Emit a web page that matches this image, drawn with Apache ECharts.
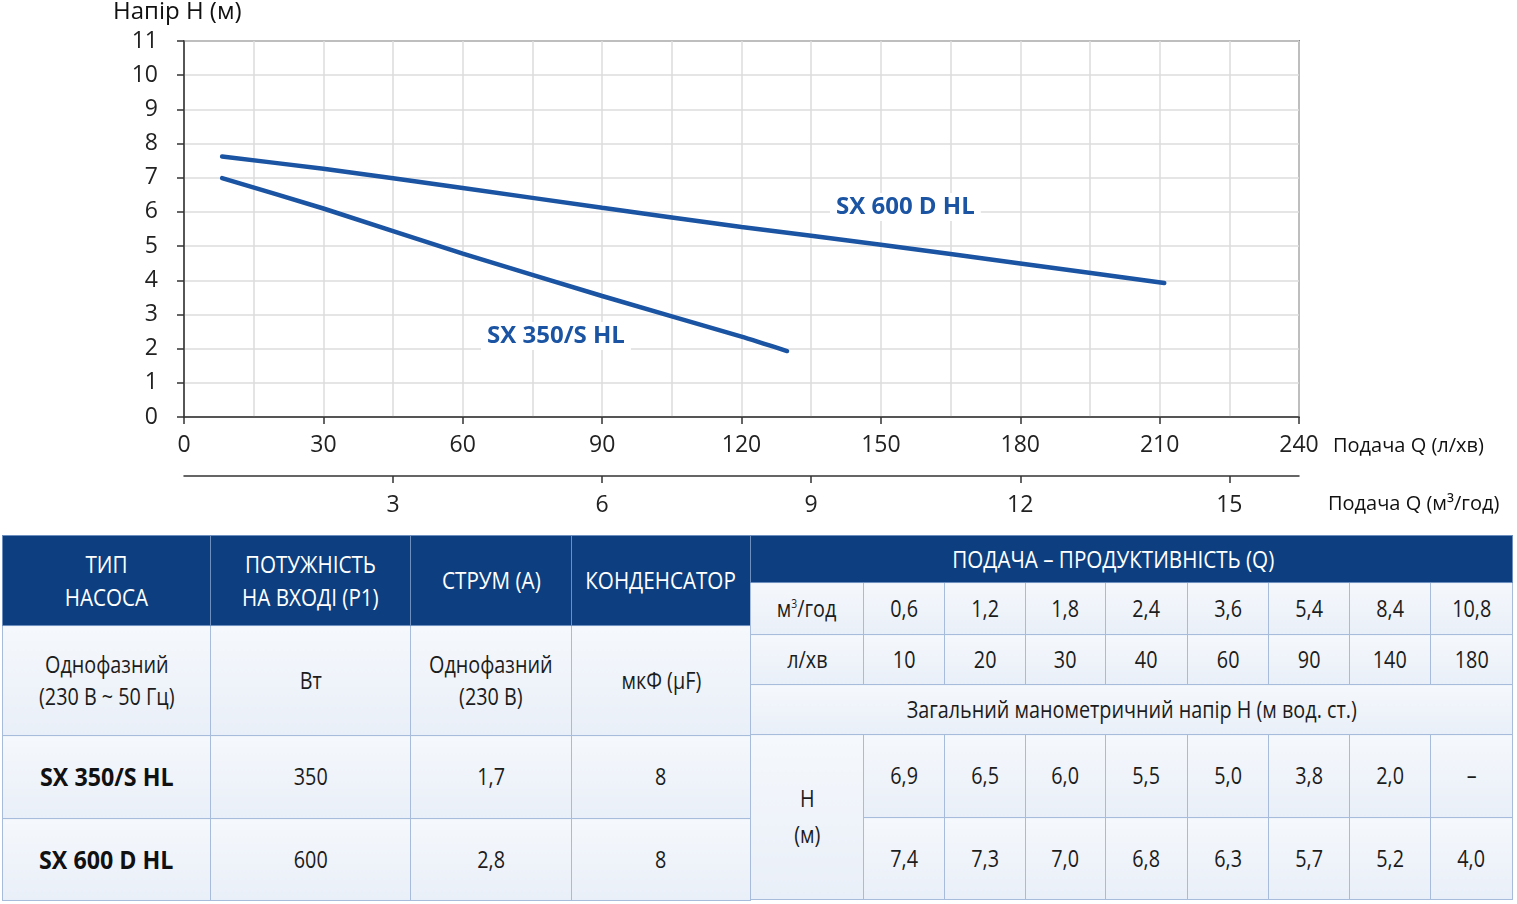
<!DOCTYPE html>
<html>
<head>
<meta charset="utf-8">
<script src="https://cdn.jsdelivr.net/npm/echarts@6/dist/echarts.min.js"></script>
<style>
  html, body { margin: 0; padding: 0; background: #fff; }
  body { width: 1517px; height: 904px; position: relative; overflow: hidden; }
  #chart { position: absolute; left: 0; top: 0; width: 1517px; height: 530px; }
  table {
    position: absolute; top: 535px; border-collapse: collapse; table-layout: fixed;
    font-family: 'Open Sans', sans-serif;
    color: #1c1c1c; font-size: 23px; text-align: center;
  }
  td { border: 1.5px solid #a7bcdb; background: linear-gradient(#f5f8fc, #e9eff8); padding: 0; line-height: 1.35; }
  td.head { background: #0d3f80; color: #fff; border-color: #6d8fbf; font-size: 24px; }
  td.model { font-weight: bold; font-size: 25px; color: #111; }
  td span { display: inline-block; transform: scaleX(0.86); white-space: nowrap; }
  td.model span { transform: scaleX(0.93); }
  #left { left: 2px; }
  #right { left: 750px; }
  sup { font-size: 12px; vertical-align: 9px; line-height: 0; }
</style>
</head>
<body>
<div id="chart"></div>
<table id="left"></table>
<table id="right"></table>
<script>
// curves: flow Q (l/min) and head H (m)
const sx350Flow = [8.2, 30, 60, 90, 120, 129.8];
const sx350Head = [6.99, 6.1, 4.78, 3.54, 2.35, 1.93];
const sx600Flow = [8.2, 30, 60, 90, 120, 150, 180, 211];
const sx600Head = [7.62, 7.26, 6.7, 6.12, 5.56, 5.04, 4.49, 3.92];

// table
const models = ['SX 350/S HL', 'SX 600 D HL'];
const powerW = ['350', '600'];
const currentA = ['1,7', '2,8'];
const capacitor = ['8', '8'];
const flowM3 = ['0,6', '1,2', '1,8', '2,4', '3,6', '5,4', '8,4', '10,8'];
const flowLmin = ['10', '20', '30', '40', '60', '90', '140', '180'];
const headSx350 = ['6,9', '6,5', '6,0', '5,5', '5,0', '3,8', '2,0', '–'];
const headSx600 = ['7,4', '7,3', '7,0', '6,8', '6,3', '5,7', '5,2', '4,0'];

const blue = '#1b54a2';
const font = 'Open Sans';

const chart = echarts.init(document.getElementById('chart'));

const toPairs = (xs, ys) => xs.map((x, i) => [x, ys[i]]);

const option = {
  animation: false,
  textStyle: { fontFamily: font },
  grid: {
    left: 184, top: 41, width: 1115, height: 376,
    show: true, borderColor: '#333', borderWidth: 1.5, backgroundColor: 'transparent',
  },
  xAxis: [
    {
      type: 'value', min: 0, max: 240, interval: 30,
      axisLine: { lineStyle: { color: '#333', width: 1.5 } },
      axisTick: { show: true, length: 7, lineStyle: { color: '#333', width: 1.5 } },
      axisLabel: { color: '#222', fontSize: 23, margin: 17, fontFamily: font },
      splitLine: { show: true, lineStyle: { color: '#dcdcdc', width: 1.5 } },
      minorTick: { show: false, splitNumber: 2 },
      minorSplitLine: { show: true, lineStyle: { color: '#dcdcdc', width: 1.5 } },
    },
    {
      type: 'value', min: 0, max: 16, interval: 3, position: 'bottom', offset: 59,
      axisLine: { show: true, lineStyle: { color: '#333', width: 1.5 } },
      axisTick: { show: true, length: 7, lineStyle: { color: '#333', width: 1.5 } },
      axisLabel: {
        color: '#222', fontSize: 23, margin: 18, fontFamily: font,
        showMinLabel: false, showMaxLabel: false,
        formatter: (v) => (v === 0 || v === 16 ? '' : String(v)),
      },
      splitLine: { show: false },
    },
  ],
  yAxis: {
    type: 'value', min: 0, max: 11, interval: 1,
    axisLine: { show: true, lineStyle: { color: '#333', width: 1.5 } },
    axisTick: { show: true, length: 7, lineStyle: { color: '#333', width: 1.5 } },
    axisLabel: { color: '#222', fontSize: 23, margin: 26, fontFamily: font },
    splitLine: { show: true, lineStyle: { color: '#dcdcdc', width: 1.5 } },
  },
  graphic: [
    { type: 'text', left: 113, top: 0, z: 100, style: { text: 'Напір H (м)', font: '500 24px "Open Sans"', fill: '#111' } },
    { type: 'text', left: 1333, top: 436, z: 100, style: { text: 'Подача Q (л/хв)', font: '500 20px "Open Sans"', fill: '#111' } },
    { type: 'text', left: 1328, top: 494, z: 100, style: { text: 'Подача Q (м³/год)', font: '500 20px "Open Sans"', fill: '#111' } },
    {
      type: 'text', left: 830, top: 193, z: 100,
      style: { text: 'SX 600 D HL', font: 'bold 24px "Open Sans"', fill: blue, backgroundColor: '#fff', padding: [2, 6] },
    },
    {
      type: 'text', left: 481, top: 322, z: 100,
      style: { text: 'SX 350/S HL', font: 'bold 24px "Open Sans"', fill: blue, backgroundColor: '#fff', padding: [2, 6] },
    },
  ],
  series: [
    {
      name: 'SX 350/S HL', type: 'line', xAxisIndex: 0, smooth: 0.2, symbol: 'none',
      lineStyle: { color: blue, width: 4.5, cap: 'round' },
      data: toPairs(sx350Flow, sx350Head),
    },
    {
      name: 'SX 600 D HL', type: 'line', xAxisIndex: 0, smooth: 0.2, symbol: 'none',
      lineStyle: { color: blue, width: 4.5, cap: 'round' },
      data: toPairs(sx600Flow, sx600Head),
    },
  ],
};
chart.setOption(option);

const cell = (v, attrs = '') => `<td${attrs}><span>${v}</span></td>`;

// left table
const left = document.getElementById('left');
const leftCols = [208, 200, 161, 179];
let html = '<colgroup>' + leftCols.map((w) => `<col style="width:${w}px">`).join('') + '</colgroup>';
html += '<tr style="height:90px">' + ['ТИП<br>НАСОСА', 'ПОТУЖНІСТЬ<br>НА ВХОДІ (P1)', 'СТРУМ (А)', 'КОНДЕНСАТОР'].map((v) => cell(v, ' class="head"')).join('') + '</tr>';
html += '<tr style="height:110px">' + ['Однофазний<br>(230 В ~ 50 Гц)', 'Вт', 'Однофазний<br>(230 В)', 'мкФ (µF)'].map((v) => cell(v)).join('') + '</tr>';
const leftRowH = [83, 82];
models.forEach((m, i) => {
  html += `<tr style="height:${leftRowH[i]}px">` + cell(m, ' class="model"') + cell(powerW[i]) + cell(currentA[i]) + cell(capacitor[i]) + '</tr>';
});
left.innerHTML = html;

// right table
const right = document.getElementById('right');
const rightCols = [113, 81, 81, 80, 82, 81, 81, 81, 82];
let r = '<colgroup>' + rightCols.map((w) => `<col style="width:${w}px">`).join('') + '</colgroup>';
r += '<tr style="height:47px">' + cell('ПОДАЧА – ПРОДУКТИВНІСТЬ (Q)', ' class="head" colspan="9" style="padding-right:36px"') + '</tr>';
r += '<tr style="height:52px">' + cell('м<sup>3</sup>/год') + flowM3.map((v) => cell(v)).join('') + '</tr>';
r += '<tr style="height:50px">' + cell('л/хв') + flowLmin.map((v) => cell(v)).join('') + '</tr>';
r += '<tr style="height:50px">' + cell('Загальний манометричний напір H (м вод. ст.)', ' colspan="9"') + '</tr>';
r += '<tr style="height:83px">' + cell('H<br>(м)', ' rowspan="2" style="line-height:1.55"') + headSx350.map((v) => cell(v)).join('') + '</tr>';
r += '<tr style="height:82px">' + headSx600.map((v) => cell(v)).join('') + '</tr>';
right.innerHTML = r;
</script>
</body>
</html>
